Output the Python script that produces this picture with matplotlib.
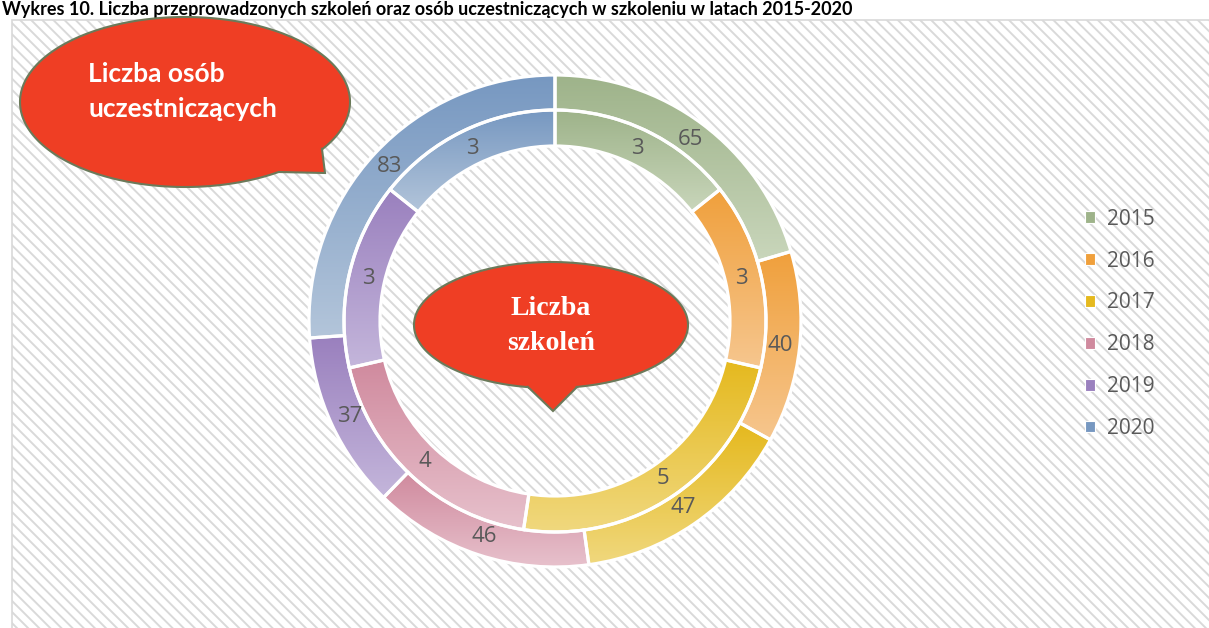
import numpy as np
import matplotlib
matplotlib.use("Agg")
import matplotlib.pyplot as plt
from matplotlib.patches import Rectangle, PathPatch, Patch
from matplotlib.path import Path
from matplotlib.colors import to_rgb

# ---------------- data ----------------
years = ["2015", "2016", "2017", "2018", "2019", "2020"]
participants = [65, 40, 47, 46, 37, 83]   # outer ring
trainings = [3, 3, 5, 4, 3, 3]            # inner ring
dark_cols = ["#9EB38A", "#F0A03C", "#E5B91E", "#D08A9E", "#9A80BE", "#7798C1"]
light_cols = ["#C9D6BB", "#F6C68E", "#F0D87E", "#E7C1CC", "#C4B6DB", "#B3C5DA"]
title = ("Wykres 10. Liczba przeprowadzonych szkoleń oraz osób uczestniczących "
         "w szkoleniu w latach 2015-2020")

W, H = 1209, 628
plt.rcParams["hatch.linewidth"] = 1.4
plt.rcParams["hatch.color"] = "#E6E6E6"

fig = plt.figure(figsize=(W / 100, H / 100), dpi=100)
ax = fig.add_axes([0, 0, 1, 1])
ax.set_xlim(0, W)
ax.set_ylim(0, H)
ax.set_aspect("equal")
ax.axis("off")

def Y(y):  # convert from top-down pixel to axes y
    return H - y

# background frame with hatch
ax.add_patch(Rectangle((12, -5), W, Y(20) + 5, facecolor="white",
                       edgecolor="#D9D9D9", hatch="\\\\\\", lw=1.2, zorder=0))

# title
ax.text(2, Y(1), title, fontsize=13, fontweight="bold", family="Lato",
        color="black", ha="left", va="top", zorder=5)

cx, cy = 555, Y(321)

def gradient_fill(wedges, idx_cols):
    for w, (c1, c2) in zip(wedges, idx_cols):
        th = np.radians(np.linspace(w.theta1, w.theta2, 200))
        r_out, r_in = w.r, w.r - w.width
        xs = np.concatenate([w.center[0] + r_out * np.cos(th), w.center[0] + r_in * np.cos(th)])
        ys = np.concatenate([w.center[1] + r_out * np.sin(th), w.center[1] + r_in * np.sin(th)])
        x0, x1, y0, y1 = xs.min(), xs.max(), ys.min(), ys.max()
        a, b = np.array(to_rgb(c1)), np.array(to_rgb(c2))
        t = np.linspace(0, 1, 100)[:, None]
        grad = (a * (1 - t) + b * t)[:, None, :]   # row 0 = dark (top)
        img = ax.imshow(grad, extent=(x0, x1, y0, y1), origin="upper",
                        aspect="auto", zorder=2, interpolation="bilinear")
        img.set_clip_path(w)
        w.set_facecolor("none")
        w.set_zorder(3)

def add_labels(wedges, values):
    for w, v in zip(wedges, values):
        ang = np.radians((w.theta1 + w.theta2) / 2)
        rm = w.r - w.width / 2 - 2
        ax.text(w.center[0] + rm * np.cos(ang), w.center[1] + rm * np.sin(ang), str(v),
                ha="center", va="center", fontsize=16, family="Open Sans",
                color="#595959", zorder=4)

wp = dict(edgecolor="white", linewidth=2.3)
outer, _ = ax.pie(participants, radius=246, center=(cx, cy), startangle=90,
                  counterclock=False, wedgeprops=dict(width=35, **wp), frame=True)
inner, _ = ax.pie(trainings, radius=211, center=(cx, cy), startangle=90,
                  counterclock=False, wedgeprops=dict(width=36, **wp), frame=True)
ax.set_xlim(0, W)
ax.set_ylim(0, H)
ax.axis("off")
gradient_fill(outer, zip(dark_cols, light_cols))
gradient_fill(inner, zip(dark_cols, light_cols))
add_labels(outer, participants)
add_labels(inner, trainings)

# ---------------- speech bubbles ----------------
def bubble(ecx, ecy, a, b, tail_pts, t_start, t_end):
    ts = np.linspace(t_end, t_start + 2 * np.pi, 300)
    pts = [(ecx + a * np.cos(t), ecy + b * np.sin(t)) for t in ts]
    pts += tail_pts
    pts.append(pts[0])
    verts = [(x, Y(y)) for x, y in pts]
    codes = [Path.MOVETO] + [Path.LINETO] * (len(verts) - 2) + [Path.CLOSEPOLY]
    ax.add_patch(PathPatch(Path(verts, codes), facecolor="#EF3E24",
                           edgecolor="#6B7A5A", lw=1.5, zorder=6))

def ang(ecx, ecy, a, b, x, y):
    return np.arctan2((y - ecy) / b, (x - ecx) / a)

# top-left bubble
e1 = (185, 102, 165, 85)
bubble(*e1, [(322, 149), (325, 173), (278, 172)],
       ang(*e1, 322, 149), ang(*e1, 278, 172))
for txt, yb in [("Liczba osób", 82), ("uczestniczących", 117)]:
    ax.text(88, Y(yb), txt, fontsize=19, fontweight="bold", family="Lato",
            color="white", ha="left", va="baseline", zorder=7)

# center bubble
e2 = (551, 325, 137, 63)
bubble(*e2, [(577, 387), (553, 411), (528, 387)],
       ang(*e2, 577, 387), ang(*e2, 528, 387))
for txt, yb in [("Liczba", 315), ("szkoleń", 350)]:
    ax.text(551, Y(yb), txt, fontsize=20, fontweight="bold", family="Liberation Serif",
            color="white", ha="center", va="baseline", zorder=7)

# ---------------- legend ----------------
handles = [Patch(facecolor=c, edgecolor="white", lw=0.8) for c in dark_cols]
leg = ax.legend(handles, years, loc="upper left", bbox_to_anchor=(1066 / W, Y(190) / H),
                frameon=False, prop={"family": "Open Sans", "size": 15},
                handlelength=0.5, handleheight=0.5, handletextpad=0.55,
                labelspacing=1.0)
for t in leg.get_texts():
    t.set_color("#595959")

fig.savefig("out.png", dpi=100)
